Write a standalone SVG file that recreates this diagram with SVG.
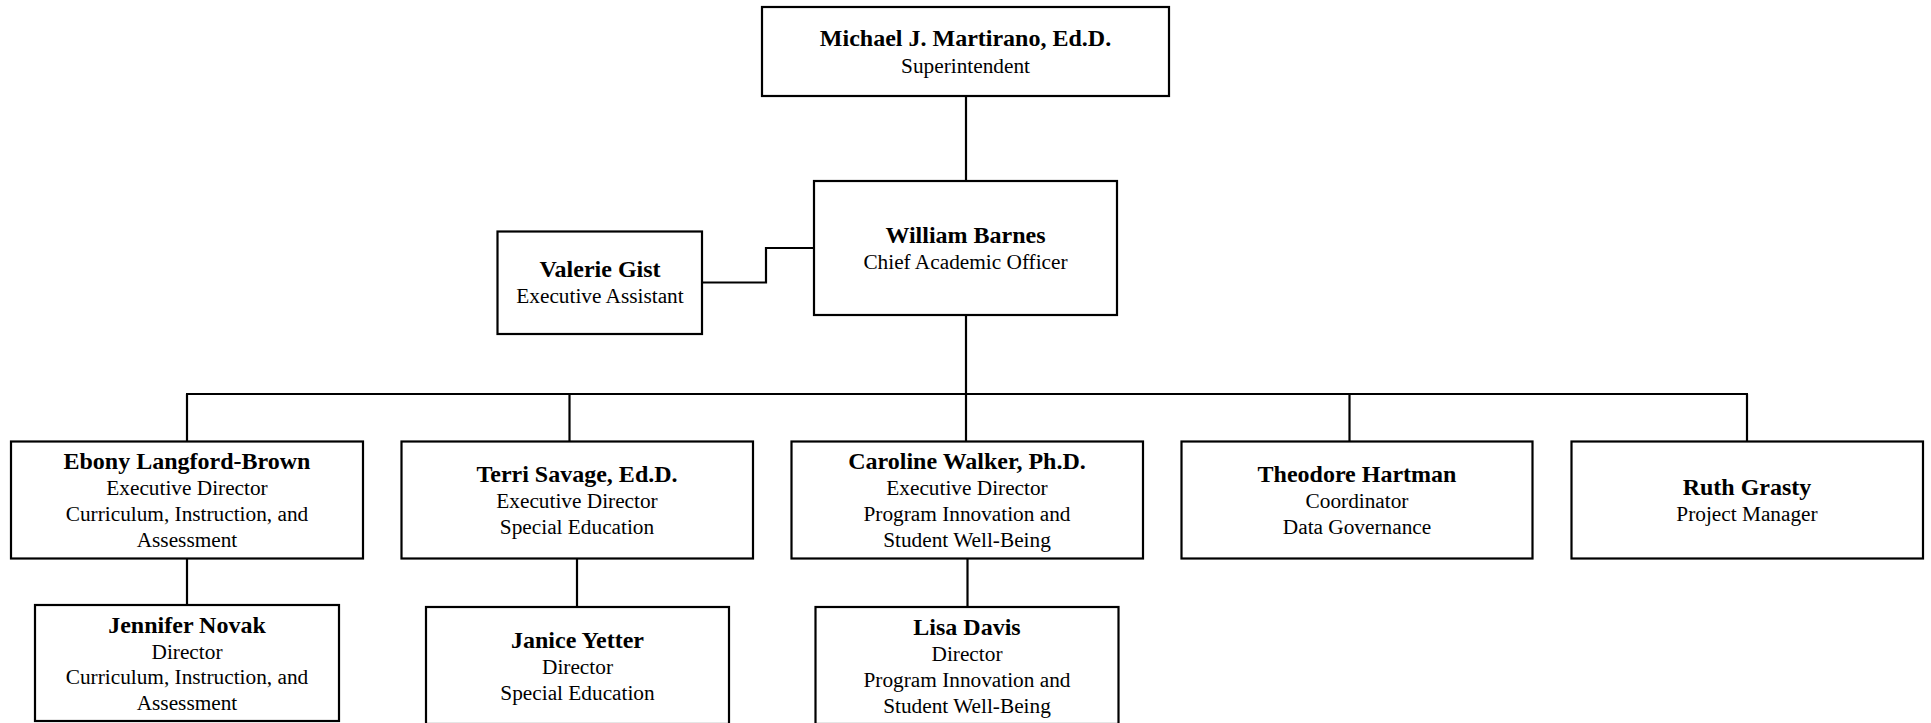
<svg xmlns="http://www.w3.org/2000/svg" width="1931" height="723" viewBox="0 0 1931 723">
<style>
.box{fill:#fff;stroke:#000;stroke-width:2.2}
.ln{fill:none;stroke:#000;stroke-width:2.2}
text{font-family:"Liberation Serif","Times New Roman",serif;fill:#000;text-anchor:middle}
.n{font-weight:bold;font-size:24px}
.r{font-size:21.3px}
</style>
<rect width="1931" height="723" fill="#fff"/>
<g id="connectors">
<line class="ln" x1="966" y1="96" x2="966" y2="181"/>
<line class="ln" x1="966" y1="315" x2="966" y2="394"/>
<polyline class="ln" points="702,282.5 766,282.5 766,248 814,248"/>
<line class="ln" x1="186" y1="394" x2="1748" y2="394"/>
<line class="ln" x1="187" y1="394" x2="187" y2="441.5"/>
<line class="ln" x1="569.5" y1="394" x2="569.5" y2="441.5"/>
<line class="ln" x1="966" y1="394" x2="966" y2="441.5"/>
<line class="ln" x1="1349.5" y1="394" x2="1349.5" y2="441.5"/>
<line class="ln" x1="1747" y1="394" x2="1747" y2="441.5"/>
<line class="ln" x1="187" y1="558.5" x2="187" y2="605"/>
<line class="ln" x1="577" y1="558.5" x2="577" y2="607"/>
<line class="ln" x1="967.5" y1="558.5" x2="967.5" y2="607"/>
</g>
<g id="martirano">
<rect class="box" x="762" y="7" width="407" height="89"/>
<text class="n" x="965.5" y="46">Michael J. Martirano, Ed.D.</text>
<text class="r" x="965.5" y="72.5">Superintendent</text>
</g>
<g id="barnes">
<rect class="box" x="814" y="181" width="303" height="134"/>
<text class="n" x="965.5" y="243">William Barnes</text>
<text class="r" x="965.5" y="269">Chief Academic Officer</text>
</g>
<g id="gist">
<rect class="box" x="497.5" y="231.5" width="204.5" height="102.5"/>
<text class="n" x="600" y="277">Valerie Gist</text>
<text class="r" x="600" y="303">Executive Assistant</text>
</g>
<g id="langford-brown">
<rect class="box" x="11" y="441.5" width="352" height="117"/>
<text class="n" x="187" y="469">Ebony Langford-Brown</text>
<text class="r" x="187" y="495">Executive Director</text>
<text class="r" x="187" y="521">Curriculum, Instruction, and</text>
<text class="r" x="187" y="547">Assessment</text>
</g>
<g id="savage">
<rect class="box" x="401.5" y="441.5" width="351.5" height="117"/>
<text class="n" x="577" y="482">Terri Savage, Ed.D.</text>
<text class="r" x="577" y="508">Executive Director</text>
<text class="r" x="577" y="534">Special Education</text>
</g>
<g id="walker">
<rect class="box" x="791.5" y="441.5" width="351.5" height="117"/>
<text class="n" x="967" y="469">Caroline Walker, Ph.D.</text>
<text class="r" x="967" y="495">Executive Director</text>
<text class="r" x="967" y="521">Program Innovation and</text>
<text class="r" x="967" y="547">Student Well-Being</text>
</g>
<g id="hartman">
<rect class="box" x="1181.5" y="441.5" width="351" height="117"/>
<text class="n" x="1357" y="482">Theodore Hartman</text>
<text class="r" x="1357" y="508">Coordinator</text>
<text class="r" x="1357" y="534">Data Governance</text>
</g>
<g id="grasty">
<rect class="box" x="1571.5" y="441.5" width="351.5" height="117"/>
<text class="n" x="1747" y="495">Ruth Grasty</text>
<text class="r" x="1747" y="521">Project Manager</text>
</g>
<g id="novak">
<rect class="box" x="35" y="605" width="304" height="116"/>
<text class="n" x="187" y="633">Jennifer Novak</text>
<text class="r" x="187" y="659">Director</text>
<text class="r" x="187" y="684">Curriculum, Instruction, and</text>
<text class="r" x="187" y="709.5">Assessment</text>
</g>
<g id="yetter">
<rect class="box" x="426" y="607" width="303" height="117"/>
<text class="n" x="577.5" y="648">Janice Yetter</text>
<text class="r" x="577.5" y="674">Director</text>
<text class="r" x="577.5" y="700">Special Education</text>
</g>
<g id="davis">
<rect class="box" x="815.5" y="607" width="303" height="117"/>
<text class="n" x="967" y="635">Lisa Davis</text>
<text class="r" x="967" y="661">Director</text>
<text class="r" x="967" y="687">Program Innovation and</text>
<text class="r" x="967" y="713">Student Well-Being</text>
</g>
</svg>
